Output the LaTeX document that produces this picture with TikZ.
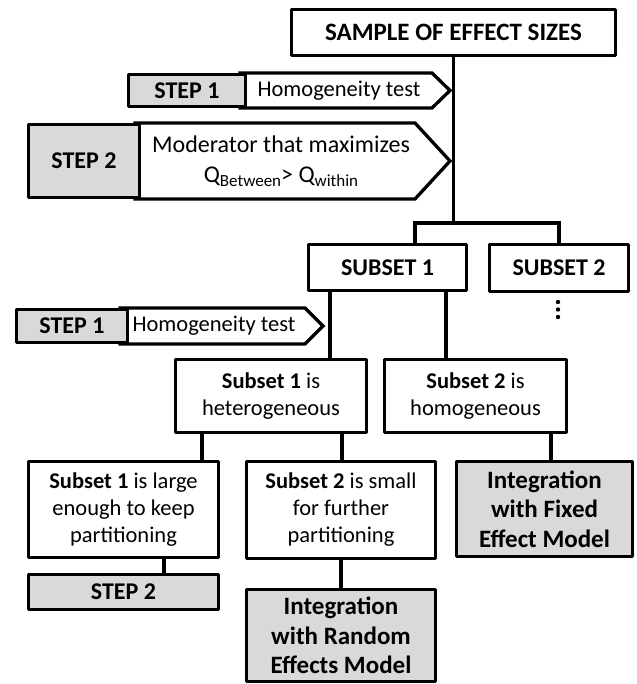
\documentclass[tikz,border=0pt]{standalone}
\usepackage{fontspec}
\setmainfont{Carlito}
\newcommand\qsub[1]{\raisebox{-0.35ex}{\fontsize{17}{17}\selectfont #1}}
\begin{document}
\begin{tikzpicture}[x=1pt,y=-1pt,
  box/.style={draw=black, line width=3.3pt, inner sep=0pt, align=center, fill=white, line join=round},
  gbox/.style={box, fill=black!15},
  conn/.style={draw=black, line width=3.3pt},
  arrowshape/.style={draw=black, line width=3.3pt, fill=white, line join=miter},
  big/.style={font=\fontsize{25}{29}\selectfont\bfseries},
  head/.style={font=\fontsize{24}{28}\selectfont\bfseries},
  body/.style={font=\fontsize{22.5}{27}\selectfont},
  integ/.style={font=\fontsize{25}{29.5}\selectfont\bfseries},
  lbl/.style={inner sep=0pt, align=center}]
\useasboundingbox (0,0) rectangle (636,684);
\fill[white] (0,0) rectangle (636,684);

% step arrows (shapes)
\draw[arrowshape] (240,73) -- (432,73) -- (450,90.5) -- (432,108) -- (240,108) -- cycle;
\draw[arrowshape] (135,123) -- (415,123) -- (450,161) -- (415,199) -- (135,199) -- cycle;
\draw[arrowshape] (120,308) -- (305,308) -- (323,326) -- (305,344) -- (120,344) -- cycle;

% nodes
\node[box, big, minimum width=324pt, minimum height=46pt] (top) at (453.5,32.5) {SAMPLE OF EFFECT SIZES};
\node[gbox, head, minimum width=117pt, minimum height=32pt] (st1a) at (187,90.5) {STEP 1};
\node[lbl, body] (ht1) at (339,90.5) {Homogeneity test};
\node[gbox, head, minimum width=111pt, minimum height=73pt] (st2a) at (84,161) {STEP 2};
\node[lbl, font=\fontsize{24}{30}\selectfont] (mod) at (281,161) {Moderator that maximizes\\Q\qsub{Between}> Q\qsub{within}};

\node[box, head, minimum width=158pt, minimum height=46pt] (sub1) at (387.5,267.5) {SUBSET 1};
\node[box, head, minimum width=139pt, minimum height=47pt] (sub2) at (559,268) {SUBSET 2};
\fill (558,302) circle (2.2pt) (558,309.5) circle (2.2pt) (558,317) circle (2.2pt);

\node[gbox, head, minimum width=111pt, minimum height=33pt] (st1b) at (72,326) {STEP 1};
\node[lbl, body] (ht2) at (214,326) {Homogeneity test};

\node[box, body, minimum width=191pt, minimum height=73pt] (het) at (271,396) {\textbf{Subset 1} is\\heterogeneous};
\node[box, body, minimum width=182pt, minimum height=73pt] (hom) at (475.5,396) {\textbf{Subset 2} is\\homogeneous};

\node[box, body, minimum width=190pt, minimum height=96pt] (large) at (123.5,509.5) {\textbf{Subset 1} is large\\enough to keep\\partitioning};
\node[box, body, minimum width=189pt, minimum height=97pt] (small) at (341,510) {\textbf{Subset 2} is small\\for further\\partitioning};
\node[gbox, integ, minimum width=176pt, minimum height=95pt] (fixed) at (544.5,509) {Integration\\with Fixed\\Effect Model};
\node[gbox, head, minimum width=190pt, minimum height=35pt] (st2b) at (123.5,592) {STEP 2};
\node[gbox, integ, minimum width=189pt, minimum height=92pt] (random) at (341,635.5) {Integration\\with Random\\Effects Model};

% connectors
\draw[conn] (top.south) |- (415,223) coordinate (bl) -- (sub1.north -| bl);
\draw[conn] (top.south |- bl) -| (sub2.north);
\draw[conn] (sub1.south -| 330,0) -- (het.north -| 330,0);
\draw[conn] (sub1.south -| 446,0) -- (hom.north -| 446,0);
\draw[conn] (het.south -| 202,0) -- (large.north -| 202,0);
\draw[conn] (het.south -| 342,0) -- (small.north -| 342,0);
\draw[conn] (hom.south -| 551,0) -- (fixed.north -| 551,0);
\draw[conn] (large.south -| 164,0) -- (st2b.north -| 164,0);
\draw[conn] (small.south) -- (random.north);
\end{tikzpicture}
\end{document}
